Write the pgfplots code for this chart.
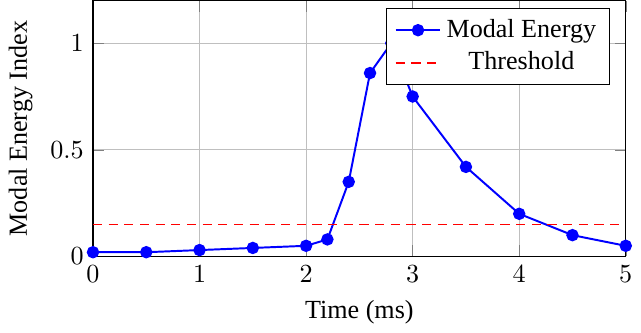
\documentclass[border=0pt]{standalone}
\usepackage{fontspec}
\setmainfont{Liberation Serif}
\usepackage{pgfplots}
\pgfplotsset{compat=1.18}
\begin{document}
\begin{tikzpicture}
\begin{axis}[
  scale only axis,
  width=204pt, height=98pt,
  xmin=0, xmax=5, ymin=0, ymax=1.2,
  xtick={0,1,2,3,4,5},
  ytick={0,0.5,1},
  grid=major,
  xlabel={Time (ms)},
  ylabel={Modal Energy Index},
  legend cell align=center,
  legend pos=north east,
]
\addplot[blue, line width=0.75pt, mark=*, mark size=2pt, mark options={solid, fill=blue}] coordinates {
  (0,0.02) (0.5,0.02) (1,0.03) (1.5,0.04) (2,0.05) (2.2,0.08) (2.4,0.35)
  (2.6,0.86) (2.8,1.0) (3,0.75) (3.5,0.42) (4,0.2) (4.5,0.1) (5,0.05)
};
\addlegendentry{Modal Energy}
\addplot[red, line width=0.75pt, dash pattern=on 3.5pt off 2.5pt] coordinates {(0,0.15) (5,0.15)};
\addlegendentry{Threshold}
\end{axis}
\end{tikzpicture}
\end{document}
